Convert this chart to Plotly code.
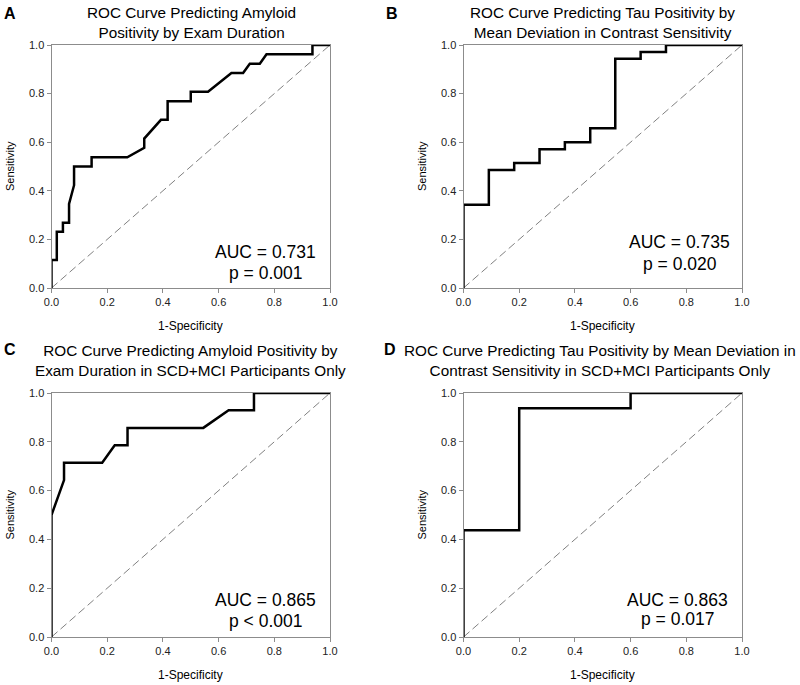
import plotly.graph_objects as go

# Panel A: ROC amyloid by exam duration
a_fpr = [0.0, 0.0, 0.019, 0.019, 0.041, 0.041, 0.063, 0.063, 0.081, 0.081, 0.144, 0.144,
         0.272, 0.333, 0.333, 0.393, 0.417, 0.417, 0.5, 0.5, 0.562, 0.646, 0.688, 0.712,
         0.748, 0.772, 0.937, 0.937, 1.0]
a_tpr = [0.0, 0.115, 0.115, 0.231, 0.231, 0.269, 0.269, 0.346, 0.423, 0.5, 0.5, 0.538,
         0.538, 0.577, 0.615, 0.692, 0.692, 0.769, 0.769, 0.808, 0.808, 0.885, 0.885, 0.923,
         0.923, 0.962, 0.962, 1.0, 1.0]

# Panel B: ROC tau by mean deviation in contrast sensitivity
b_fpr = [0.0, 0.0, 0.091, 0.091, 0.182, 0.182, 0.273, 0.273, 0.364, 0.364, 0.455, 0.455,
         0.545, 0.545, 0.636, 0.636, 0.727, 0.727, 1.0]
b_tpr = [0.0, 0.343, 0.343, 0.486, 0.486, 0.514, 0.514, 0.571, 0.571, 0.6, 0.6, 0.657,
         0.657, 0.943, 0.943, 0.971, 0.971, 1.0, 1.0]

# Panel C: amyloid, SCD+MCI only
c_fpr = [0.0, 0.0, 0.045, 0.045, 0.182, 0.227, 0.273, 0.273, 0.545, 0.636, 0.727, 0.727, 1.0]
c_tpr = [0.0, 0.5, 0.643, 0.714, 0.714, 0.786, 0.786, 0.857, 0.857, 0.929, 0.929, 1.0, 1.0]

# Panel D: tau, SCD+MCI only
d_fpr = [0.0, 0.0, 0.2, 0.2, 0.6, 0.6, 1.0]
d_tpr = [0.0, 0.4375, 0.4375, 0.9375, 0.9375, 1.0, 1.0]

ref_x = [0.0, 1.0]
ref_y = [0.0, 1.0]

tick_vals = [0.0, 0.2, 0.4, 0.6, 0.8, 1.0]
tick_text = ["0.0", "0.2", "0.4", "0.6", "0.8", "1.0"]

panels = [
    dict(letter="A", fpr=a_fpr, tpr=a_tpr, auc="AUC = 0.731", p="p = 0.001",
         title="ROC Curve Predicting Amyloid<br>Positivity by Exam Duration",
         x0=51.5, x1=330.0, y0=45.0, y1=288.0, tx=191, ty=23, lx=10, ly=13,
         ax=0.77, ay1=0.148, ay2=0.062),
    dict(letter="B", fpr=b_fpr, tpr=b_tpr, auc="AUC = 0.735", p="p = 0.020",
         title="ROC Curve Predicting Tau Positivity by<br>Mean Deviation in Contrast Sensitivity",
         x0=463.5, x1=742.0, y0=45.0, y1=288.0, tx=602, ty=23, lx=392, ly=13,
         ax=0.776, ay1=0.19, ay2=0.10),
    dict(letter="C", fpr=c_fpr, tpr=c_tpr, auc="AUC = 0.865", p="p < 0.001",
         title="ROC Curve Predicting Amyloid Positivity by<br>Exam Duration in SCD+MCI Participants Only",
         x0=51.5, x1=330.0, y0=393.0, y1=637.0, tx=190, ty=360, lx=10, ly=349,
         ax=0.77, ay1=0.152, ay2=0.066),
    dict(letter="D", fpr=d_fpr, tpr=d_tpr, auc="AUC = 0.863", p="p = 0.017",
         title="ROC Curve Predicting Tau Positivity by Mean Deviation in<br>Contrast Sensitivity in SCD+MCI Participants Only",
         x0=463.5, x1=742.0, y0=393.0, y1=637.0, tx=600, ty=360, lx=390, ly=349,
         ax=0.77, ay1=0.152, ay2=0.072),
]

W, H = 800, 685
FONT = "Liberation Sans, Arial, sans-serif"

fig = go.Figure()
annotations = []
layout_axes = {}

for i, p in enumerate(panels, start=1):
    xa = "x" if i == 1 else f"x{i}"
    ya = "y" if i == 1 else f"y{i}"
    fig.add_trace(go.Scatter(x=ref_x, y=ref_y, mode="lines", xaxis=xa, yaxis=ya,
                             line=dict(color="#808080", width=1, dash="8px,4px"),
                             showlegend=False, hoverinfo="skip"))
    fig.add_trace(go.Scatter(x=p["fpr"], y=p["tpr"], mode="lines", xaxis=xa, yaxis=ya,
                             line=dict(color="black", width=2.5),
                             showlegend=False))
    xkey = "xaxis" if i == 1 else f"xaxis{i}"
    ykey = "yaxis" if i == 1 else f"yaxis{i}"
    common = dict(range=[0, 1], tickvals=tick_vals, ticktext=tick_text,
                  showgrid=False, zeroline=False, showline=True, mirror=True,
                  linecolor="#8c8c8c", linewidth=1, ticks="outside", ticklen=4,
                  tickcolor="#8c8c8c", tickfont=dict(family=FONT, size=11, color="#222"),
                  fixedrange=True, automargin=False)
    layout_axes[xkey] = dict(common, domain=[p["x0"] / W, p["x1"] / W], anchor=ya)
    layout_axes[ykey] = dict(common, domain=[1 - p["y1"] / H, 1 - p["y0"] / H], anchor=xa)

    cx = (p["x0"] + p["x1"]) / 2
    # title
    annotations.append(dict(text=p["title"], x=p["tx"] / W, y=1 - p["ty"] / H,
                            xref="paper", yref="paper",
                            showarrow=False, xanchor="center", yanchor="middle",
                            font=dict(family=FONT, size=15.3, color="black")))
    # panel letter
    annotations.append(dict(text="<b>" + p["letter"] + "</b>", x=p["lx"] / W, y=1 - p["ly"] / H,
                            xref="paper", yref="paper", showarrow=False,
                            xanchor="center", yanchor="middle",
                            font=dict(family=FONT, size=16, color="black")))
    # axis titles
    annotations.append(dict(text="Sensitivity", x=(p["x0"] - 42) / W,
                            y=1 - ((p["y0"] + p["y1"]) / 2) / H,
                            xref="paper", yref="paper", showarrow=False, textangle=-90,
                            xanchor="center", yanchor="middle",
                            font=dict(family=FONT, size=11, color="black")))
    annotations.append(dict(text="1-Specificity", x=cx / W, y=1 - (p["y1"] + 38) / H,
                            xref="paper", yref="paper", showarrow=False,
                            xanchor="center", yanchor="middle",
                            font=dict(family=FONT, size=12, color="black")))
    # AUC / p text
    annotations.append(dict(text=p["auc"], x=p["ax"], y=p["ay1"], xref=xa, yref=ya,
                            showarrow=False, xanchor="center", yanchor="middle",
                            font=dict(family=FONT, size=17.5, color="black")))
    annotations.append(dict(text=p["p"], x=p["ax"], y=p["ay2"], xref=xa, yref=ya,
                            showarrow=False, xanchor="center", yanchor="middle",
                            font=dict(family=FONT, size=17.5, color="black")))

fig.update_layout(width=W, height=H, margin=dict(l=0, r=0, t=0, b=0),
                  paper_bgcolor="white", plot_bgcolor="white",
                  annotations=annotations, showlegend=False, **layout_axes)

fig.write_html("out.html", config={"displayModeBar": False},
               post_script="document.body.style.margin='0';document.body.style.overflow='hidden';")
